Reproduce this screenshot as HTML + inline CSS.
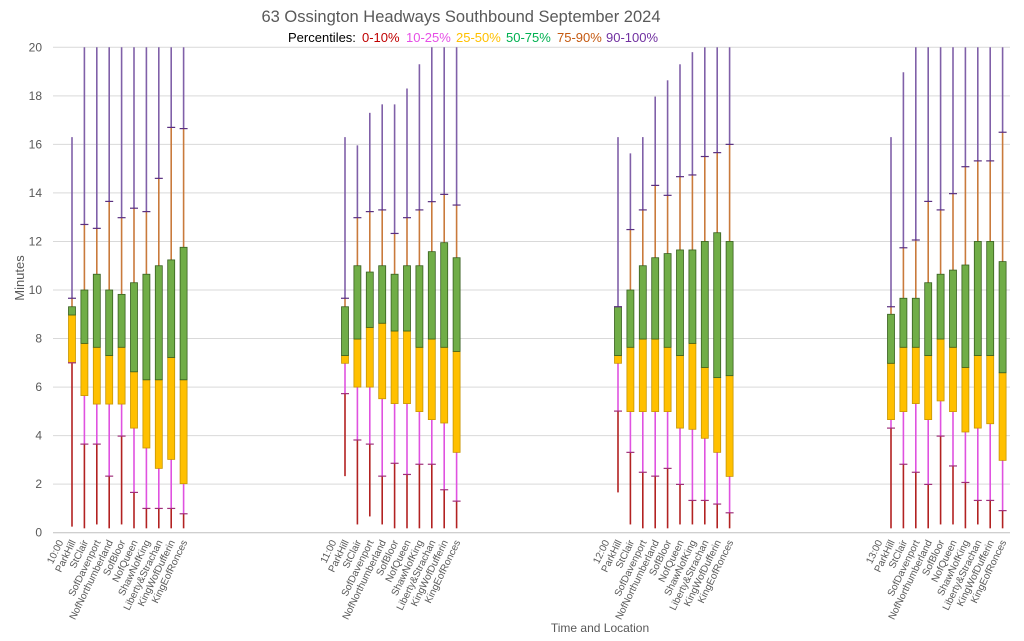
<!DOCTYPE html>
<html><head><meta charset="utf-8"><style>
body{margin:0;background:#fff;width:1024px;height:636px;overflow:hidden;font-family:"Liberation Sans",sans-serif}
svg text{font-family:"Liberation Sans",sans-serif}
</style></head><body>
<svg id="chart" width="1024" height="636" viewBox="0 0 1024 636" xmlns="http://www.w3.org/2000/svg">
<text x="461" y="22" text-anchor="middle" font-size="16.5" fill="#595959">63 Ossington Headways Southbound September 2024</text>
<g font-size="13">
<text x="288" y="42" fill="#000">Percentiles:</text>
<text x="362" y="42" fill="#c00000">0-10%</text>
<text x="406" y="42" fill="#e64ee6">10-25%</text>
<text x="456" y="42" fill="#ffc000">25-50%</text>
<text x="506" y="42" fill="#00b050">50-75%</text>
<text x="557" y="42" fill="#c55a11">75-90%</text>
<text x="606" y="42" fill="#7030a0">90-100%</text>
</g>
<text transform="translate(24,278) rotate(-90)" text-anchor="middle" font-size="13" fill="#595959">Minutes</text>
<text x="600" y="632" text-anchor="middle" font-size="12" fill="#595959">Time and Location</text>
<g id="grid"></g><g id="marks"></g><g id="xlabels"></g>
</svg>
<script>
const times = ["10:00","11:00","12:00","13:00"];
const stops = ["ParkHill","StClair","SofDavenport","NofNorthumberland","SofBloor","NofQueen","ShawNofKing","Liberty&Strachan","KingWofDufferin","KingEofRonces"];
const yTicks = [0,2,4,6,8,10,12,14,16,18,20];
// per time group, per stop: [min,p10,p25,p50,p75,p90,max]
const g1000 = [[0.25,7.0,7.0,8.97,9.31,9.66,16.3],[0.18,3.65,5.65,7.8,10.0,12.7,22],[0.34,3.65,5.3,7.64,10.65,12.54,22],[0.18,2.33,5.3,7.3,10.0,13.65,22],[0.34,3.98,5.3,7.64,9.82,12.98,22],[0.18,1.66,4.31,6.63,10.3,13.37,22],[0.18,1.0,3.49,6.3,10.65,13.23,22],[0.18,1.0,2.65,6.3,11.0,14.6,22],[0.18,1.0,3.02,7.22,11.24,16.7,22],[0.18,0.78,2.02,6.3,11.76,16.65,22]];
const g1100 = [[2.33,5.73,6.98,7.3,9.31,9.66,16.3],[0.34,3.82,6.0,7.98,11.0,12.98,15.96],[0.67,3.65,6.0,8.46,10.74,13.23,17.3],[0.34,2.33,5.52,8.63,11.0,13.3,17.65],[0.18,2.86,5.32,8.31,10.65,12.33,17.65],[0.18,2.4,5.32,8.31,11.0,12.98,18.3],[0.18,2.82,4.99,7.64,11.0,13.3,19.3],[0.18,2.82,4.66,7.98,11.58,13.64,22],[0.18,1.77,4.52,7.64,11.95,13.94,22],[0.18,1.3,3.31,7.47,11.33,13.5,22]];
const g1200 = [[1.66,5.01,6.98,7.3,9.31,9.31,16.3],[0.34,3.31,4.99,7.64,10.0,12.49,15.63],[0.18,2.49,4.99,7.98,11.0,13.3,16.3],[0.18,2.33,4.99,7.98,11.33,14.31,17.97],[0.18,2.65,4.99,7.64,11.5,13.9,18.64],[0.34,1.99,4.31,7.3,11.65,14.67,19.3],[0.34,1.33,4.26,7.8,11.65,14.74,19.8],[0.34,1.33,3.89,6.81,12.0,15.5,22],[0.18,1.18,3.31,6.39,12.36,15.66,22],[0.18,0.82,2.32,6.47,12.0,16.0,22]];
const g1300 = [[0.18,4.31,4.66,6.98,9.0,9.31,16.3],[0.18,2.82,4.99,7.64,9.66,11.74,18.97],[0.18,2.49,5.32,7.64,9.66,12.06,22],[0.18,1.99,4.66,7.3,10.3,13.65,22],[0.34,3.98,5.43,7.98,10.65,13.3,22],[0.34,2.75,4.99,7.64,10.82,13.97,22],[0.18,2.07,4.15,6.81,11.03,15.08,22],[0.34,1.33,4.31,7.3,12.0,15.32,22],[0.18,1.33,4.49,7.3,12.0,15.32,22],[0.18,0.91,2.98,6.59,11.17,16.5,22]];
const groups = [g1000,g1100,g1200,g1300];

const NS="http://www.w3.org/2000/svg";
const Y0=532.7, PX=24.27, YMAX=20;
function yS(v){return Y0-Math.min(v,YMAX)*PX;}
function xS(g,i){return 59.6+g*273+ i*12.4;}
function mk(tag,attrs,parent){const e=document.createElementNS(NS,tag);for(const k in attrs)e.setAttribute(k,attrs[k]);parent.appendChild(e);return e;}
const grid=document.getElementById('grid'), marks=document.getElementById('marks'), xl=document.getElementById('xlabels');
yTicks.forEach(t=>{
  const l=mk('line',{x1:53,x2:1010,y1:yS(t),y2:yS(t),stroke:t===0?'#bfbfbf':'#d9d9d9','stroke-width':1},grid);
  
  
  const tx=mk('text',{x:42,y:yS(t)+4,'text-anchor':'end','font-size':12,fill:'#595959'},grid);
  tx.textContent=t;
  
  
});
const C={low:'#b22222',q1:'#e052e0',box1:'#ffc000',box1s:'#c89600',box2:'#70ad47',box2s:'#375f1f',up:'#c97a3c',top:'#8060a8'};
groups.forEach((grp,g)=>{
  const lab=[times[g]].concat(stops);
  lab.forEach((s,i)=>{
    const x=xS(g,i)+4, y=542;
    const t=mk('text',{transform:`translate(${x},${y}) rotate(-64)`,'text-anchor':'end','font-size':10,fill:'#595959'},xl);
    t.textContent=s;
    
    
  });
  grp.forEach((d,j)=>{
    const x=xS(g,j+1);
    const G=mk('g',{},marks);
    
    
    const seg=(a,b,c)=>{if(Math.min(b,YMAX)>a)mk('line',{x1:x,x2:x,y1:yS(a),y2:yS(b),stroke:c,'stroke-width':1.6},G);};
    seg(d[0],d[1],C.low); seg(d[1],d[2],C.q1); seg(d[4],d[5],C.up); seg(d[5],d[6],C.top);
    mk('rect',{x:x-3.5,y:yS(d[3]),width:7,height:Math.max(yS(d[2])-yS(d[3]),0.5),fill:C.box1,stroke:C.box1s,'stroke-width':0.8},G);
    mk('rect',{x:x-3.5,y:yS(d[4]),width:7,height:Math.max(yS(d[3])-yS(d[4]),0.5),fill:C.box2,stroke:C.box2s,'stroke-width':0.8},G);
    [[d[1],'#a0307a'],[d[5],'#5a3080']].forEach(([v,c])=>{if(v<YMAX)mk('line',{x1:x-4,x2:x+4,y1:yS(v),y2:yS(v),stroke:c,'stroke-width':1.2},G);});
  });
});
</script>
</body></html>
